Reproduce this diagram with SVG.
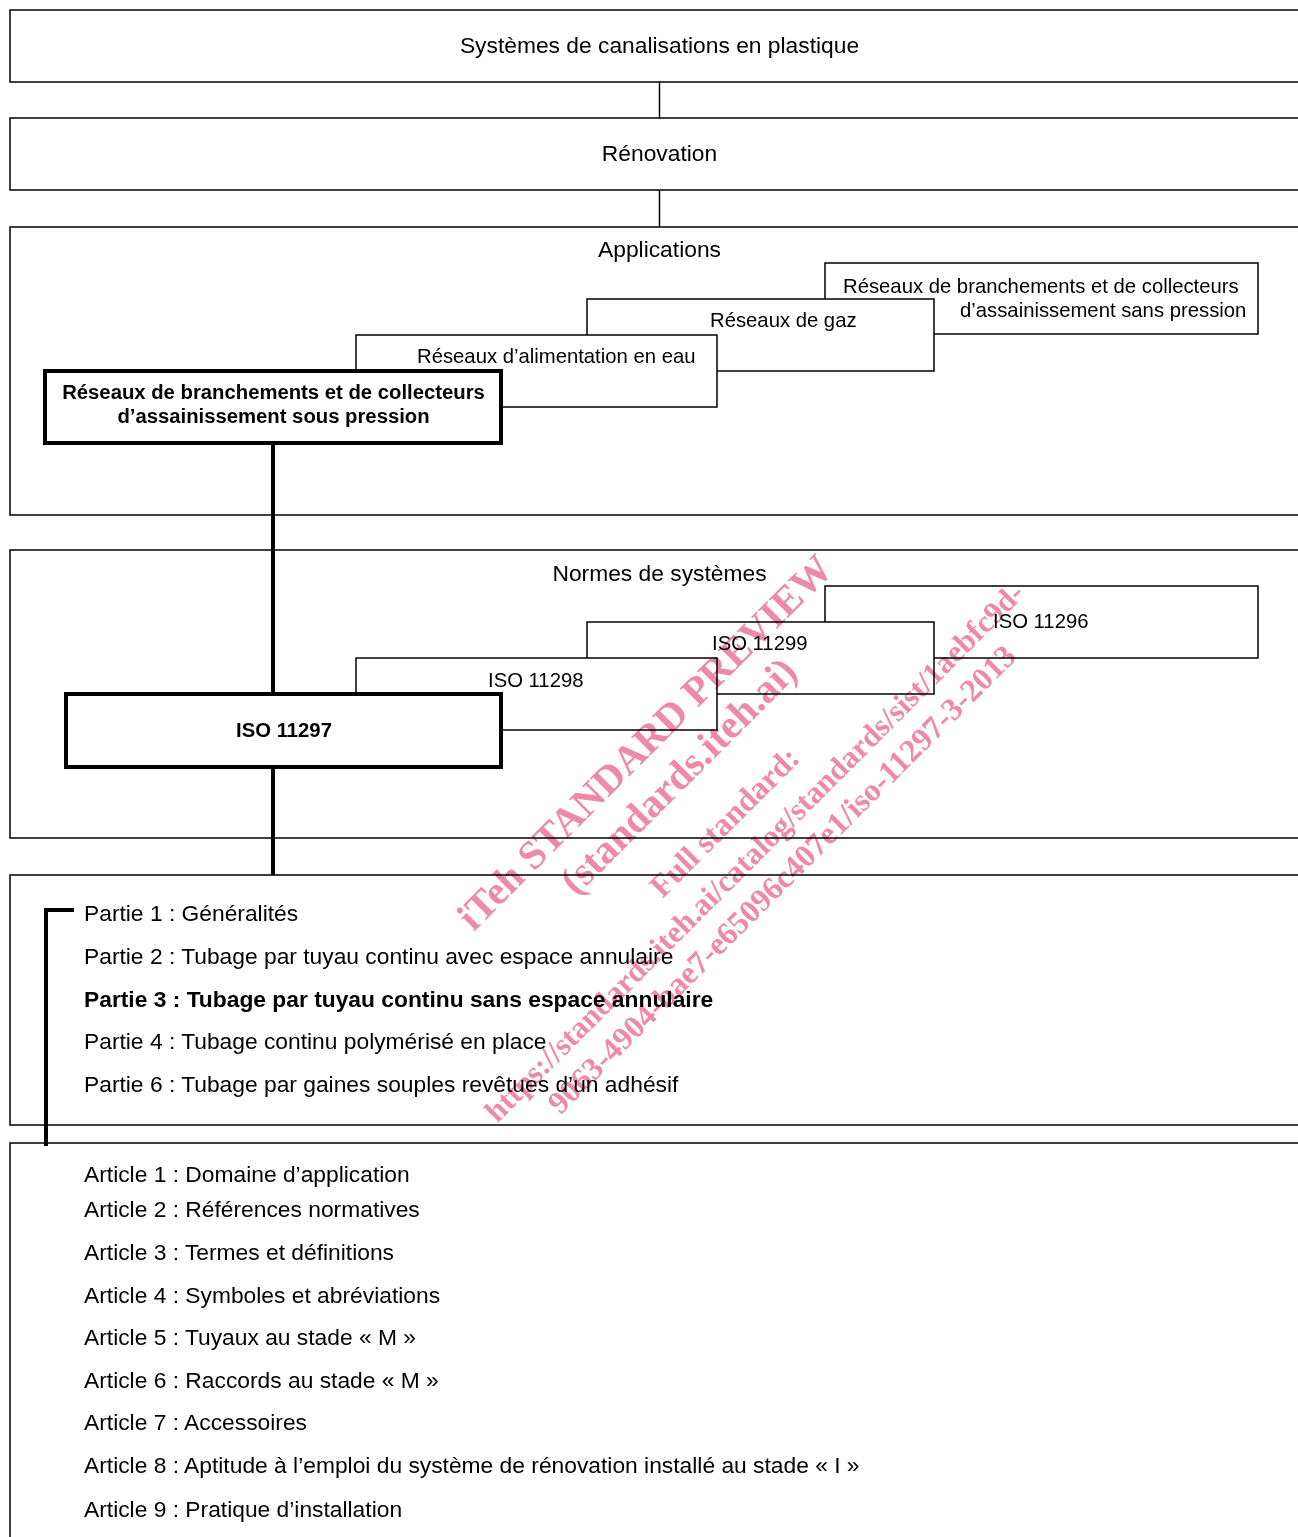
<svg xmlns="http://www.w3.org/2000/svg" width="1298" height="1537" viewBox="0 0 1298 1537">
<style>
.box{fill:#fff;stroke:#000;stroke-width:1.5}
.bbox{fill:#fff;stroke:#000;stroke-width:4}
.t{font-family:"Liberation Sans",Arial,sans-serif;fill:#000}
.lg{font-size:22.8px}
.sm{font-size:20.3px}
.b{font-weight:bold}
.c{text-anchor:middle}
.thin{fill:none;stroke:#000;stroke-width:1.5}
.thick{fill:none;stroke:#000;stroke-width:4}
.wm{font-family:"Liberation Serif","Times New Roman",serif;font-weight:bold;fill:#ee8aa8;text-anchor:middle}
</style>
<rect x="0" y="0" width="1298" height="1537" fill="#fff"/>
<g id="plastics">
<rect class="box" x="10" y="10" width="1300" height="72"/>
<text class="t lg c" x="659.5" y="53">Systèmes de canalisations en plastique</text>
</g>
<g id="renovation">
<rect class="box" x="10" y="118" width="1300" height="72"/>
<text class="t lg c" x="659.5" y="161">Rénovation</text>
</g>
<g id="applications">
<rect class="box" x="10" y="227" width="1300" height="288"/>
<text class="t lg c" x="659.5" y="257">Applications</text>
</g>
<g id="app-sans-pression">
<rect class="box" x="825" y="263" width="433" height="71"/>
<text class="t sm" x="843" y="293">Réseaux de branchements et de collecteurs</text>
<text class="t sm" x="960" y="317">d’assainissement sans pression</text>
</g>
<g id="app-gaz">
<rect class="box" x="587" y="299" width="347" height="72"/>
<text class="t sm" x="710" y="327">Réseaux de gaz</text>
</g>
<g id="app-eau">
<rect class="box" x="356" y="335" width="361" height="72"/>
<text class="t sm" x="417" y="363">Réseaux d’alimentation en eau</text>
</g>
<g id="app-sous-pression">
<rect class="bbox" x="45" y="371" width="456" height="72"/>
<text class="t sm b c" x="273.5" y="399">Réseaux de branchements et de collecteurs</text>
<text class="t sm b c" x="273.5" y="423">d’assainissement sous pression</text>
</g>
<g id="normes">
<rect class="box" x="10" y="550" width="1300" height="288"/>
<text class="t lg c" x="659.5" y="581">Normes de systèmes</text>
</g>
<g id="iso11296">
<rect class="box" x="825" y="586" width="433" height="72"/>
<text class="t sm" x="993" y="628">ISO 11296</text>
</g>
<g id="iso11299">
<rect class="box" x="587" y="622" width="347" height="72"/>
<text class="t sm" x="712" y="650">ISO 11299</text>
</g>
<g id="iso11298">
<rect class="box" x="356" y="658" width="361" height="72"/>
<text class="t sm" x="488" y="686.5">ISO 11298</text>
</g>
<g id="iso11297">
<rect class="bbox" x="66" y="694" width="435" height="73"/>
<text class="t sm b c" x="284" y="737">ISO 11297</text>
</g>
<g id="parties">
<rect class="box" x="10" y="875" width="1300" height="250"/>
<text class="t lg" x="84" y="921">Partie 1 : Généralités</text>
<text class="t lg" x="84" y="964">Partie 2 : Tubage par tuyau continu avec espace annulaire</text>
<text class="t lg b" x="84" y="1006.7">Partie 3 : Tubage par tuyau continu sans espace annulaire</text>
<text class="t lg" x="84" y="1049">Partie 4 : Tubage continu polymérisé en place</text>
<text class="t lg" x="84" y="1092">Partie 6 : Tubage par gaines souples revêtues d’un adhésif</text>
</g>
<g id="articles">
<rect class="box" x="10" y="1143" width="1300" height="420"/>
<text class="t lg" x="84" y="1182">Article 1 : Domaine d’application</text>
<text class="t lg" x="84" y="1217">Article 2 : Références normatives</text>
<text class="t lg" x="84" y="1260">Article 3 : Termes et définitions</text>
<text class="t lg" x="84" y="1303">Article 4 : Symboles et abréviations</text>
<text class="t lg" x="84" y="1345">Article 5 : Tuyaux au stade « M »</text>
<text class="t lg" x="84" y="1388">Article 6 : Raccords au stade « M »</text>
<text class="t lg" x="84" y="1430">Article 7 : Accessoires</text>
<text class="t lg" x="84" y="1473">Article 8 : Aptitude à l’emploi du système de rénovation installé au stade « I »</text>
<text class="t lg" x="84" y="1517">Article 9 : Pratique d’installation</text>
</g>
<g id="connectors">
<line class="thin" x1="659.5" y1="82" x2="659.5" y2="118"/>
<line class="thin" x1="659.5" y1="190" x2="659.5" y2="227"/>
<line class="thick" x1="273" y1="443" x2="273" y2="694"/>
<line class="thick" x1="273" y1="767" x2="273" y2="875"/>
<path class="thick" d="M74,910 H46 V1146"/>
</g>
<g id="watermark" transform="rotate(-45)" style="mix-blend-mode:multiply">
<text class="wm" x="-69" y="994" font-size="40.5">iTeh STANDARD PREVIEW</text>
<text class="wm" x="-69" y="1041.5" font-size="40.5">(standards.iteh.ai)</text>
<text class="wm" x="-69" y="1104" font-size="32">Full standard:</text>
<text class="wm" x="-69" y="1146" font-size="31">https://standards.iteh.ai/catalog/standards/sist/1aebfc9d-</text>
<text class="wm" x="-69" y="1185" font-size="32">9063-4904-bae7-e65096c407e1/iso-11297-3-2013</text>
</g>
</svg>
